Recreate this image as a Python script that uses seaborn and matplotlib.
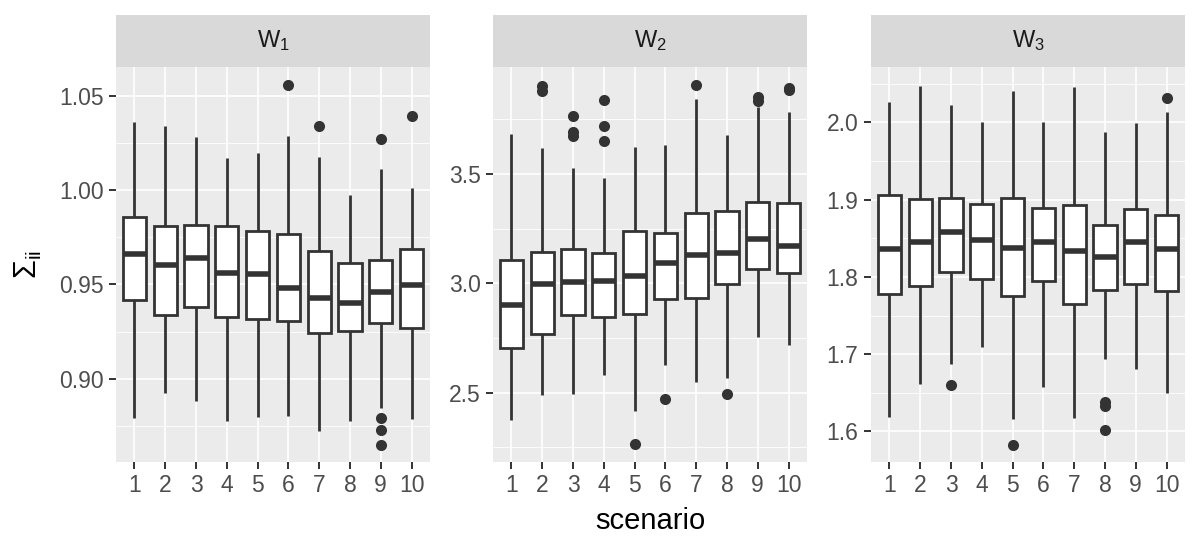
import numpy as np
import pandas as pd
import matplotlib.pyplot as plt
from matplotlib.patches import Rectangle
from matplotlib.ticker import FixedLocator
import seaborn as sns

OUTPUT_IMAGE_PATH = "out.png"

SCENARIOS = [str(i) for i in range(1, 11)]
PANELS = [r"W$_{\mathrm{1}}$", r"W$_{\mathrm{2}}$", r"W$_{\mathrm{3}}$"]

# box statistics: whisker low, q1, median, q3, whisker high
W1_LOW = [0.8793, 0.8926, 0.8880, 0.8774, 0.8797, 0.8802, 0.8723, 0.8776, 0.8844, 0.8786]
W1_Q1 = [0.9420, 0.9337, 0.9379, 0.9325, 0.9316, 0.9307, 0.9242, 0.9252, 0.9295, 0.9270]
W1_MED = [0.9663, 0.9605, 0.9642, 0.9563, 0.9557, 0.9482, 0.9429, 0.9402, 0.9462, 0.9497]
W1_Q3 = [0.9859, 0.9808, 0.9817, 0.9808, 0.9785, 0.9768, 0.9679, 0.9612, 0.9630, 0.9686]
W1_HIGH = [1.0359, 1.0339, 1.0281, 1.0170, 1.0198, 1.0288, 1.0177, 0.9972, 1.0112, 1.0009]
W1_OUT_X = ["6", "7", "9", "9", "9", "9", "10"]
W1_OUT_Y = [1.0555, 1.0341, 1.0271, 0.8793, 0.8730, 0.8650, 1.0394]

W2_LOW = [2.3767, 2.4879, 2.4955, 2.5822, 2.4148, 2.6249, 2.5488, 2.5686, 2.7542, 2.7162]
W2_Q1 = [2.7025, 2.7694, 2.8562, 2.8455, 2.8608, 2.9277, 2.9338, 2.9977, 3.0647, 3.0464]
W2_MED = [2.8988, 2.9977, 3.0069, 3.0099, 3.0327, 3.0921, 3.1302, 3.1408, 3.2032, 3.1720]
W2_Q3 = [3.1073, 3.1423, 3.1576, 3.1393, 3.2382, 3.2306, 3.3204, 3.3326, 3.3706, 3.3661]
W2_HIGH = [3.6826, 3.6187, 3.5274, 3.4817, 3.6218, 3.6339, 3.8425, 3.6796, 3.8044, 3.7816]
W2_OUT_X = ["2", "2", "3", "3", "3", "4", "4", "4", "5", "6", "7", "8", "9", "9", "10", "10"]
W2_OUT_Y = [3.900, 3.880, 3.766, 3.690, 3.672, 3.839, 3.718, 3.649, 2.264, 2.473,
            3.906, 2.496, 3.850, 3.832, 3.892, 3.884]

W3_LOW = [1.6186, 1.6608, 1.6875, 1.7091, 1.6164, 1.6573, 1.6177, 1.6931, 1.6811, 1.6500]
W3_Q1 = [1.7780, 1.7888, 1.8060, 1.7974, 1.7754, 1.7944, 1.7651, 1.7832, 1.7910, 1.7823]
W3_MED = [1.8367, 1.8457, 1.8578, 1.8474, 1.8371, 1.8448, 1.8341, 1.8254, 1.8448, 1.8362]
W3_Q3 = [1.9065, 1.9013, 1.9017, 1.8944, 1.9017, 1.8888, 1.8935, 1.8677, 1.8879, 1.8802]
W3_HIGH = [2.0259, 2.0474, 2.0224, 2.0000, 2.0401, 2.0000, 2.0453, 1.9879, 1.9987, 2.0138]
W3_OUT_X = ["3", "5", "8", "8", "8", "10"]
W3_OUT_Y = [1.6595, 1.5828, 1.6380, 1.6328, 1.6022, 2.0315]

Y_LIMITS = [(0.8559, 1.0654), (2.1835, 3.990), (1.5604, 2.072)]
Y_TICKS = [[0.90, 0.95, 1.00, 1.05], [2.5, 3.0, 3.5], [1.6, 1.7, 1.8, 1.9, 2.0]]
Y_MINOR = [[0.875, 0.925, 0.975, 1.025], [2.25, 2.75, 3.25, 3.75],
           [1.65, 1.75, 1.85, 1.95, 2.05]]
Y_FMT = ["{:.2f}", "{:.1f}", "{:.1f}"]


def panel_frames(low, q1, med, q3, high, out_x, out_y):
    rows = []
    for i, s in enumerate(SCENARIOS):
        for v in (low[i], q1[i], med[i], q3[i], high[i]):
            rows.append({"scenario": s, "value": v})
    boxes = pd.DataFrame(rows)
    outliers = pd.DataFrame({"scenario": out_x, "value": out_y})
    return boxes, outliers


def generate_chart():
    sns.set_theme(style="darkgrid", rc={
        "xtick.bottom": True, "ytick.left": True,
        "xtick.major.size": 5, "ytick.major.size": 5,
        "xtick.major.width": 1.4, "ytick.major.width": 1.4,
        "xtick.color": "#333333", "ytick.color": "#333333",
    })
    plt.rcParams["font.family"] = ["Liberation Sans", "DejaVu Sans"]
    plt.rcParams["mathtext.fontset"] = "custom"
    plt.rcParams["mathtext.rm"] = "Liberation Sans"
    plt.rcParams["mathtext.it"] = "Liberation Sans:italic"
    plt.rcParams["mathtext.bf"] = "Liberation Sans:bold"

    data = [
        panel_frames(W1_LOW, W1_Q1, W1_MED, W1_Q3, W1_HIGH, W1_OUT_X, W1_OUT_Y),
        panel_frames(W2_LOW, W2_Q1, W2_MED, W2_Q3, W2_HIGH, W2_OUT_X, W2_OUT_Y),
        panel_frames(W3_LOW, W3_Q1, W3_MED, W3_Q3, W3_HIGH, W3_OUT_X, W3_OUT_Y),
    ]

    fig = plt.figure(figsize=(12, 5.5), dpi=100)
    lefts = [116 / 1200, 493 / 1200, 871 / 1200]
    width = 314 / 1200
    bottom = 1 - 462 / 550
    height = (462 - 66.7) / 550
    strip_h = (66.7 - 15) / (462 - 66.7)

    for k, (boxes, outliers) in enumerate(data):
        ax = fig.add_axes([lefts[k], bottom, width, height])
        ax.set_facecolor("#EBEBEB")
        ax.set_axisbelow(True)

        sns.boxplot(data=boxes, x="scenario", y="value", order=SCENARIOS, ax=ax,
                    color="white", linecolor="#333333", linewidth=2.0, width=0.75,
                    whis=(0, 100), showfliers=False, showcaps=False, saturation=1,
                    medianprops={"linewidth": 4.0})
        sns.stripplot(data=outliers, x="scenario", y="value", order=SCENARIOS, ax=ax,
                      jitter=False, color="#333333", size=8, linewidth=0)

        ax.set_xlim(-0.6, 9.6)
        ax.set_ylim(*Y_LIMITS[k])
        ax.set_yticks(Y_TICKS[k])
        ax.set_yticklabels([Y_FMT[k].format(t) for t in Y_TICKS[k]])
        ax.yaxis.set_minor_locator(FixedLocator(Y_MINOR[k]))
        ax.grid(which="major", color="white", linewidth=1.2)
        ax.grid(which="minor", axis="y", color="white", linewidth=0.6)
        ax.tick_params(which="major", length=5, width=1.4, color="#333333",
                       labelsize=16.5, labelcolor="#4D4D4D", pad=4,
                       bottom=True, left=True)
        ax.tick_params(which="minor", length=0)
        for sp in ax.spines.values():
            sp.set_visible(False)
        ax.set_xlabel("")
        ax.set_ylabel("")

        # facet strip on top of each panel
        ax.add_patch(Rectangle((0, 1), 1, strip_h, transform=ax.transAxes,
                               facecolor="#D9D9D9", edgecolor="none", clip_on=False))
        ax.text(0.5, 1 + strip_h / 2, PANELS[k], transform=ax.transAxes,
                ha="center", va="center", fontsize=17, color="#1A1A1A")

    fig.text(650 / 1200, 1 - 521 / 550, "scenario", ha="center", va="center",
             fontsize=21, color="black")
    fig.text(28 / 1200, 1 - 264 / 550, r"$\mathrm{\Sigma_{ii}}$", ha="center",
             va="center", rotation=90, fontsize=22, color="black")

    fig.savefig(OUTPUT_IMAGE_PATH, dpi=100)


if __name__ == "__main__":
    generate_chart()
